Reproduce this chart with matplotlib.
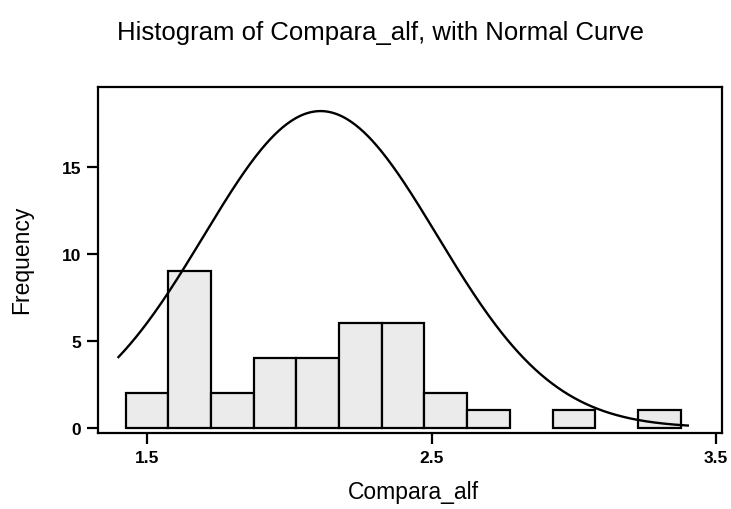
import numpy as np
import matplotlib
matplotlib.use("Agg")
import matplotlib.pyplot as plt

plt.rcParams['font.family'] = ['Liberation Sans', 'DejaVu Sans']

# Histogram bins (centres, width 0.15) and their counts
bin_centers = [1.50, 1.65, 1.80, 1.95, 2.10, 2.25, 2.40, 2.55, 2.70, 2.85, 3.00, 3.15, 3.30]
counts = [2, 9, 2, 4, 4, 6, 6, 2, 1, 0, 1, 0, 1]
bin_width = 0.15

# Fitted normal curve parameters
curve_mean = 2.11
curve_sd = 0.41
curve_peak = 18.2
curve_range = (1.40, 3.40)

xticks = [1.5, 2.5, 3.5]
yticks = [0, 5, 10, 15]

fig = plt.figure(figsize=(7.31, 5.10), dpi=100)
ax = fig.add_axes([0.134, 0.149, 0.854, 0.679])

centers = np.array(bin_centers)
vals = np.array(counts)
mask = vals > 0
ax.bar(centers[mask], vals[mask], width=bin_width, color='#ebebeb',
       edgecolor='black', linewidth=1.6, zorder=2)

xs = np.linspace(curve_range[0], curve_range[1], 400)
ys = curve_peak * np.exp(-0.5 * ((xs - curve_mean) / curve_sd) ** 2)
ax.plot(xs, ys, color='black', linewidth=1.7, zorder=3)

ax.set_xlim(1.328, 3.521)
ax.set_ylim(-0.3, 19.6)
ax.set_xticks(xticks)
ax.set_xticklabels([f"{t:.1f}" for t in xticks], fontsize=12.5, fontweight='bold')
ax.set_yticks(yticks)
ax.set_yticklabels([str(t) for t in yticks], fontsize=12.5, fontweight='bold')
ax.tick_params(direction='out', length=8, width=1.6, pad=4)
for s in ax.spines.values():
    s.set_linewidth(1.6)

fig.text(0.565, 1 - 493 / 510, 'Compara_alf', ha='center', va='center', fontsize=16.5)
fig.text(22 / 731, 1 - 260 / 510, 'Frequency', ha='center', va='center',
         rotation=90, fontsize=16.5)
fig.text(0.52, 1 - 33 / 510, 'Histogram of Compara_alf, with Normal Curve',
         ha='center', va='center', fontsize=18.5)

fig.savefig('out.png', dpi=100)
